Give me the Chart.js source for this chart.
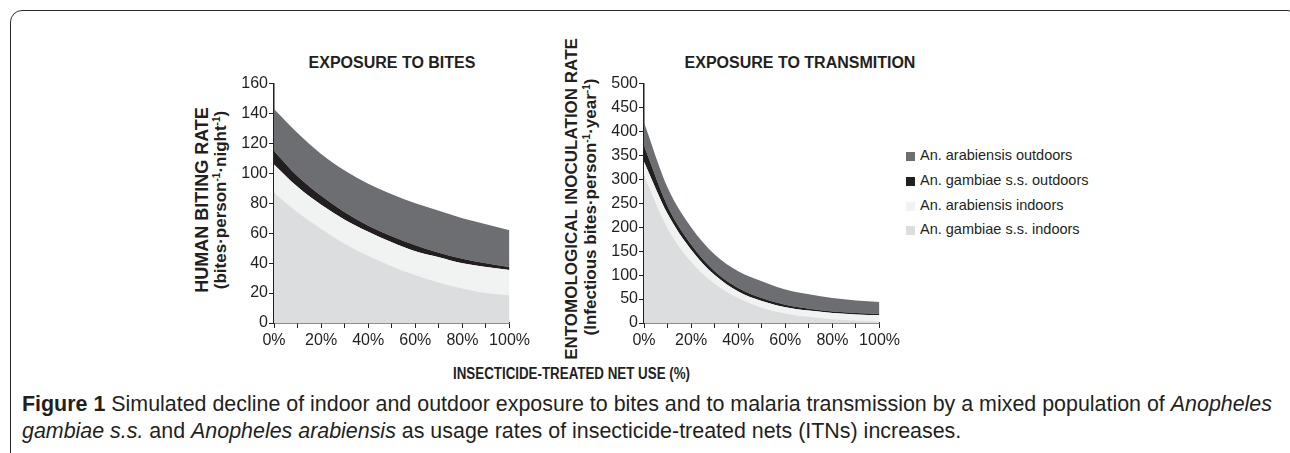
<!DOCTYPE html>
<html>
<head>
<meta charset="utf-8">
<script src="https://cdn.jsdelivr.net/npm/chart.js@4/dist/chart.umd.min.js"></script>
<style>
    html, body { margin: 0; padding: 0; background: #fff; }
    body { width: 1290px; height: 453px; position: relative; overflow: hidden;
           font-family: "Liberation Sans", Arial, Helvetica, sans-serif; color: #231f20; }
    .frame { position: absolute; left: 10px; top: 10px; width: 1280px; height: 520px;
             border: 1.5px solid #2b2b2b; border-top-left-radius: 12px; border-top-right-radius: 4px; }
    .abs { position: absolute; white-space: nowrap; }
    .ptitle { font-weight: bold; font-size: 16px; transform: translate(-50%, -50%); }
    .ytitle { transform: translate(-50%, -50%) rotate(-90deg); font-weight: bold; font-size: 18px; }
    .ytitle.sub { font-size: 17px; }
    .ytitle sup { font-size: 10px; vertical-align: 6px; line-height: 0; }
    .legend-row { position: absolute; left: 906px; font-size: 14.5px; white-space: nowrap; }
    .legend-row span.box { position: absolute; left: 0; top: -4px; width: 9px; height: 9px; }
    .legend-row span.txt { position: absolute; left: 14px; top: -9px; }
    .caption { position: absolute; left: 22px; font-size: 22px; white-space: nowrap;
               font-family: "Liberation Sans", Arial, sans-serif; transform-origin: 0 50%; }
    .xtitle { position: absolute; font-weight: bold; font-size: 16px; white-space: nowrap;
              font-family: "Liberation Sans", Arial, sans-serif; }
    canvas { position: absolute; }
</style>
</head>
<body>
<div class="frame"></div>
<canvas id="bitesChart" style="left:234px; top:73px; width:299px; height:280px;"></canvas>
<canvas id="eirChart" style="left:604px; top:73px; width:299px; height:280px;"></canvas>

<div class="abs ptitle" style="left:392px; top:63px;">EXPOSURE TO BITES</div>
<div class="abs ptitle" style="left:800px; top:63px;">EXPOSURE TO TRANSMITION</div>

<div class="abs ytitle" style="left:202px; top:200px;">HUMAN BITING RATE</div>
<div class="abs ytitle sub" style="left:221px; top:200px;">(bites·person<sup>-1</sup>·night<sup>-1</sup>)</div>
<div class="abs ytitle" style="left:572px; top:199px; font-size:17px;">ENTOMOLOGICAL INOCULATION RATE</div>
<div class="abs ytitle sub" style="left:591px; top:207px;">(Infectious bites·person<sup>-1</sup>·year<sup>-1</sup>)</div>

<div id="legend"></div>

<div class="xtitle" id="xTitle">INSECTICIDE-TREATED NET USE (%)</div>

<div class="caption" id="cap1" style="top:391px;"><b>Figure 1</b> Simulated decline of indoor and outdoor exposure to bites and to malaria transmission by a mixed population of <i>Anopheles</i></div>
<div class="caption" id="cap2" style="top:418px;"><i>gambiae s.s.</i> and <i>Anopheles arabiensis</i> as usage rates of insecticide-treated nets (ITNs) increases.</div>

<script>
// ------------------------------------------------------------
// Data (per species, stacked bottom -> top)
// ------------------------------------------------------------
var netUse = [0, 10, 20, 30, 40, 50, 60, 70, 80, 90, 100];

var seriesNames = ['An. arabiensis outdoors', 'An. gambiae s.s. outdoors', 'An. arabiensis indoors', 'An. gambiae s.s. indoors'];
var seriesColors = ['#6d6e71', '#231f20', '#f1f2f2', '#dcddde'];

// Human biting rate (bites/person/night)
var hbrGambiaeIndoors    = [87, 74, 63, 53, 45, 38, 32, 27, 23, 20, 18.5];
var hbrArabiensisIndoors = [19, 17, 16, 16, 16, 16, 16, 17, 17, 17.5, 17];
var hbrGambiaeOutdoors   = [9, 7, 6, 5, 4, 4, 4, 3, 3, 2.5, 2];
var hbrArabiensisOutdoors = [28, 29, 28, 28, 28, 28, 28, 28, 27, 26, 24.5];

// Entomological inoculation rate (infectious bites/person/year)
var eirGambiaeIndoors    = [308, 198, 128, 82, 52, 32, 20, 13, 8, 5, 3];
var eirArabiensisIndoors = [29, 30, 25, 18, 14, 14, 13, 13, 13, 13, 13.5];
var eirGambiaeOutdoors   = [33, 16, 11, 8, 7, 6, 5, 4, 3, 3, 2.5];
var eirArabiensisOutdoors = [49, 39, 36, 35, 35, 35, 32, 30, 28, 26, 25];

var xTicks = [0, 10, 20, 30, 40, 50, 60, 70, 80, 90, 100];
var xTickLabels = ['0%', '', '20%', '', '40%', '', '60%', '', '80%', '', '100%'];
var hbrTicks = [0, 20, 40, 60, 80, 100, 120, 140, 160];
var eirTicks = [0, 50, 100, 150, 200, 250, 300, 350, 400, 450, 500];

// ------------------------------------------------------------
var INK = '#231f20';
var TICK_FONT = { size: 16, family: '"Liberation Sans", Arial, sans-serif' };

function points(values) {
    return netUse.map(function(x, i) { return { x: x, y: values[i] }; });
}

function band(label, color, values, fill) {
    return {
        label: label,
        data: points(values),
        backgroundColor: color,
        borderColor: color,
        borderWidth: 0,
        pointRadius: 0,
        fill: fill,
        cubicInterpolationMode: 'monotone'
    };
}

function makeChart(id, bands, yTicks, yMax) {
    var el = document.getElementById(id);
    el.width = 299; el.height = 280;
    return new Chart(el.getContext('2d'), {
        type: 'line',
        data: {
            datasets: [
                band(seriesNames[3], seriesColors[3], bands[0], 'origin'),
                band(seriesNames[2], seriesColors[2], bands[1], '-1'),
                band(seriesNames[1], seriesColors[1], bands[2], '-1'),
                band(seriesNames[0], seriesColors[0], bands[3], '-1')
            ]
        },
        options: {
            responsive: false,
            animation: false,
            devicePixelRatio: 1,
            layout: { padding: { top: 10, right: 20, bottom: 0, left: 0 } },
            plugins: { legend: { display: false }, tooltip: { enabled: false } },
            scales: {
                x: {
                    type: 'linear', min: 0, max: 100,
                    afterBuildTicks: function(s) { s.ticks = xTicks.map(function(v) { return { value: v }; }); },
                    afterFit: function(s) { s.height = 30; },
                    ticks: {
                        autoSkip: false, maxRotation: 0, padding: 3,
                        color: INK, font: TICK_FONT,
                        callback: function(v) { return xTickLabels[xTicks.indexOf(v)]; }
                    },
                    grid: { drawOnChartArea: false, color: INK, tickLength: 5, lineWidth: 1 },
                    border: { color: INK, width: 1.5 }
                },
                y: {
                    stacked: true, min: 0, max: yMax,
                    afterBuildTicks: function(s) { s.ticks = yTicks.map(function(v) { return { value: v }; }); },
                    afterFit: function(s) { s.width = 40; },
                    ticks: { padding: 1, color: INK, font: TICK_FONT },
                    grid: { drawOnChartArea: false, color: INK, tickLength: 5, lineWidth: 1 },
                    border: { color: INK, width: 1.5 }
                }
            }
        }
    });
}

makeChart('bitesChart',
    [hbrGambiaeIndoors, hbrArabiensisIndoors, hbrGambiaeOutdoors, hbrArabiensisOutdoors],
    hbrTicks, 160);
makeChart('eirChart',
    [eirGambiaeIndoors, eirArabiensisIndoors, eirGambiaeOutdoors, eirArabiensisOutdoors],
    eirTicks, 500);

// Legend
var legend = document.getElementById('legend');
var legendY = [156, 181, 206, 230];
seriesNames.forEach(function(name, i) {
    var row = document.createElement('div');
    row.className = 'legend-row';
    row.style.top = legendY[i] + 'px';
    row.innerHTML = '<span class="box" style="background:' + seriesColors[i] + '"></span><span class="txt">' + name + '</span>';
    legend.appendChild(row);
});

// Squeeze the condensed texts to their widths in the figure
function fitWidth(el, target) {
    var k = target / el.getBoundingClientRect().width;
    el.style.transformOrigin = '0 50%';
    el.style.transform = 'scaleX(' + k + ')';
    return k;
}
var xt = document.getElementById('xTitle');
xt.style.left = '453px';
xt.style.top = '365px';
fitWidth(xt, 237);

var k = fitWidth(document.getElementById('cap1'), 1250);
document.getElementById('cap2').style.transform = 'scaleX(' + k + ')';
</script>
</body>
</html>
